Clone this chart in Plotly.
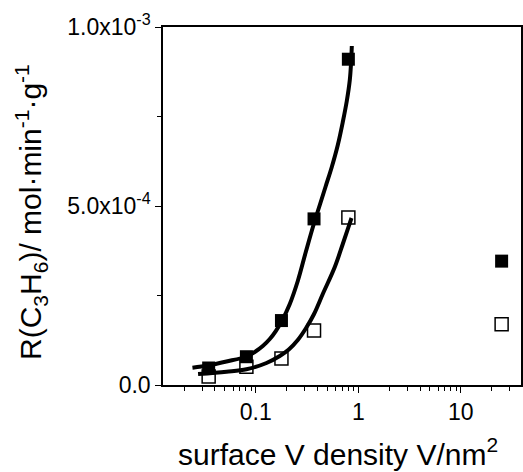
import plotly.graph_objects as go

# Measured points
density = [0.0347, 0.081, 0.178, 0.37, 0.80, 25.0]
rate_filled = [4.75e-5, 7.9e-5, 1.8e-4, 4.64e-4, 9.10e-4, 3.46e-4]
rate_open = [2.4e-5, 5.1e-5, 7.4e-5, 1.52e-4, 4.68e-4, 1.70e-4]

# Fit curves
fit1_x = [0.02412, 0.03424, 0.05177, 0.08115, 0.09778, 0.11702, 0.13694, 0.15669, 0.17939,
          0.21469, 0.25692, 0.30747, 0.36797, 0.42106, 0.48183, 0.55133, 0.63096, 0.70587,
          0.77218, 0.82622, 0.85088, 0.86437]
fit1_y = [4.83e-5, 5.45e-5, 6.56e-5, 7.96e-5, 9.22e-5, 1.089e-4, 1.285e-4, 1.508e-4, 1.788e-4,
          2.263e-4, 2.905e-4, 3.715e-4, 4.497e-4, 5.028e-4, 5.559e-4, 6.089e-4, 6.704e-4, 7.346e-4,
          7.933e-4, 8.520e-4, 9.022e-4, 9.469e-4]
fit2_x = [0.02736, 0.05177, 0.08115, 0.12718, 0.17149, 0.20992, 0.25692, 0.30747, 0.36797,
          0.45033, 0.58976, 0.70587, 0.79544, 0.85858]
fit2_y = [3.07e-5, 3.72e-5, 4.39e-5, 6.15e-5, 8.10e-5, 9.92e-5, 1.257e-4, 1.578e-4, 1.969e-4,
          2.542e-4, 3.296e-4, 3.939e-4, 4.385e-4, 4.665e-4]

y_tickvals = [0, 5e-4, 1e-3]
y_ticktext = ["0.0", "5.0x10<sup>-4</sup>", "1.0x10<sup>-3</sup>"]
y_minor = [2.5e-4, 7.5e-4]
x_tickvals = [0.1, 1, 10]
x_ticktext = ["0.1", "1", "10"]
x_minor = [0.02, 0.03, 0.04, 0.05, 0.06, 0.07, 0.08, 0.09,
           0.2, 0.3, 0.4, 0.5, 0.6, 0.7, 0.8, 0.9,
           2, 3, 4, 5, 6, 7, 8, 9, 20, 30]
x_title = "surface V density V/nm<sup>2</sup>"
y_title = "R(C<sub>3</sub>H<sub>6</sub>)/ mol·min<sup>-1</sup>·g<sup>-1</sup>"

fig = go.Figure()
fig.add_trace(go.Scatter(x=density, y=rate_open, mode="markers",
                         marker=dict(symbol="square", size=13, color="white",
                                     line=dict(color="black", width=1.5)),
                         showlegend=False))
fig.add_trace(go.Scatter(x=density, y=rate_filled, mode="markers",
                         marker=dict(symbol="square", size=13, color="black",
                                     line=dict(color="black", width=0)),
                         showlegend=False))
fig.add_trace(go.Scatter(x=fit1_x, y=fit1_y, mode="lines", line_shape="spline",
                         line=dict(color="black", width=4), showlegend=False))
fig.add_trace(go.Scatter(x=fit2_x, y=fit2_y, mode="lines", line_shape="spline",
                         line=dict(color="black", width=4), showlegend=False))

font_family = "Liberation Sans, Arial, sans-serif"
fig.update_layout(
    width=523, height=472,
    margin=dict(l=163, r=2, t=27, b=87),
    paper_bgcolor="white", plot_bgcolor="white",
    font=dict(family=font_family, color="black"),
    xaxis=dict(
        type="log", range=[-1.905, 1.587], automargin=False,
        tickmode="array", tickvals=x_tickvals, ticktext=x_ticktext,
        ticks="outside", ticklen=6, tickwidth=1.3, tickcolor="black",
        tickfont=dict(size=23, family=font_family),
        minor=dict(tickmode="array", tickvals=x_minor, ticks="outside",
                   ticklen=4, tickwidth=1, tickcolor="black", showgrid=False),
        showline=True, linecolor="black", linewidth=1.5, mirror=True,
        showgrid=False, zeroline=False,
    ),
    yaxis=dict(
        range=[0, 1e-3], automargin=False,
        tickmode="array", tickvals=y_tickvals, ticktext=y_ticktext,
        ticks="outside", ticklen=6, tickwidth=1.3, tickcolor="black",
        tickfont=dict(size=23, family=font_family),
        minor=dict(tickmode="array", tickvals=y_minor, ticks="outside",
                   ticklen=4, tickwidth=1, tickcolor="black", showgrid=False),
        showline=True, linecolor="black", linewidth=1.5, mirror=True,
        showgrid=False, zeroline=False,
    ),
    annotations=[
        dict(text=x_title, xref="paper", yref="paper", x=0.489, y=-0.187,
             xanchor="center", yanchor="middle", showarrow=False,
             font=dict(size=30, family=font_family, color="black")),
        dict(text=y_title, xref="paper", yref="paper", x=-0.369, y=0.483,
             xanchor="center", yanchor="middle", showarrow=False, textangle=-90,
             font=dict(size=30, family=font_family, color="black")),
    ],
)
fig.write_html("out.html", config={"displayModeBar": False},
               post_script="document.body.style.margin='0px';document.body.style.overflow='hidden';")
